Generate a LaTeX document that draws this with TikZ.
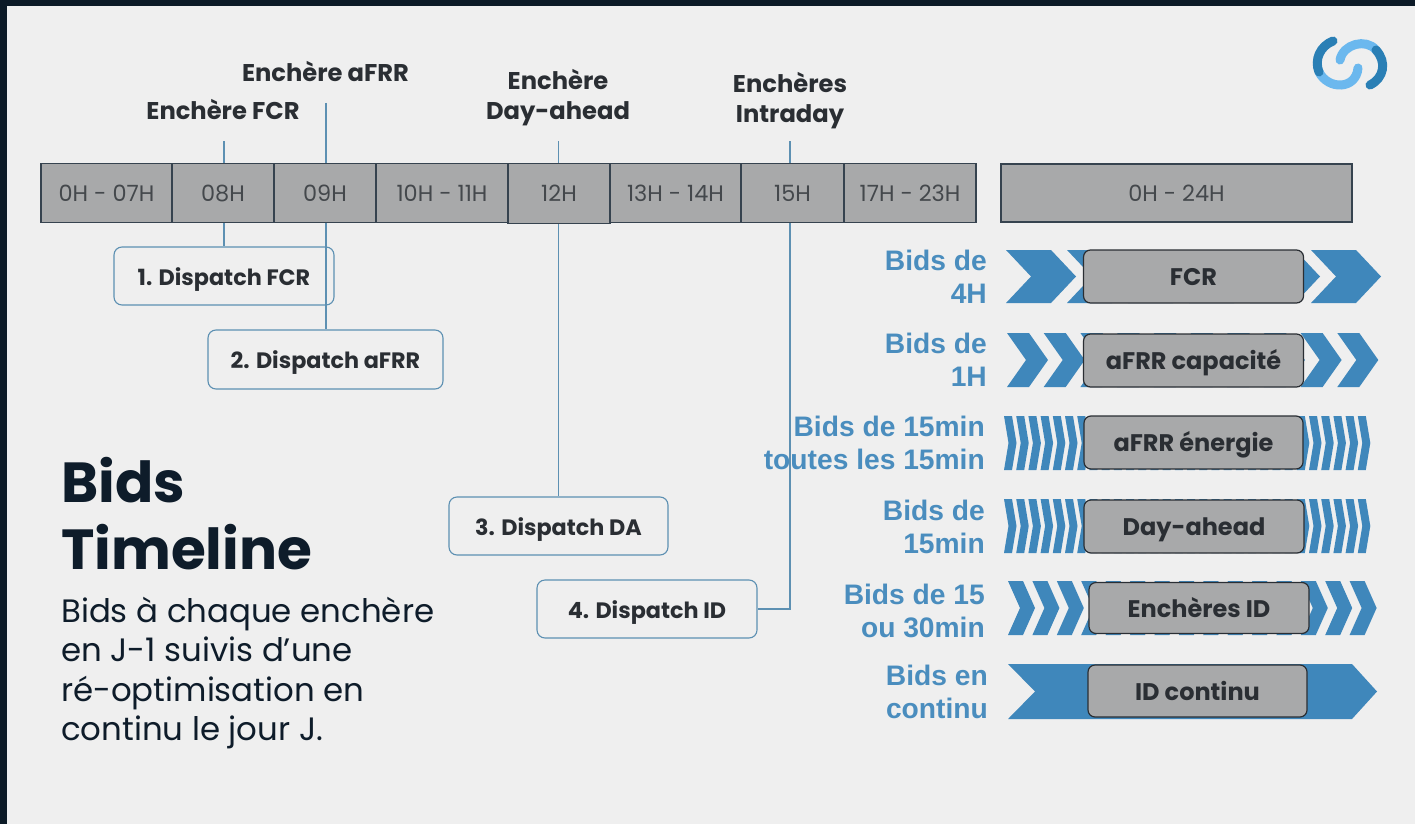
\documentclass[tikz,border=0pt]{standalone}
\usepackage{fontspec}
\setmainfont{Poppins}
\newfontfamily\arialb[BoldFont=*]{Liberation Sans Bold}
\definecolor{frameC}{HTML}{0C1A27}
\definecolor{bgC}{HTML}{EFEFEF}
\definecolor{cellC}{HTML}{A8A9AA}
\definecolor{edgeC}{HTML}{36434F}
\definecolor{lineC}{HTML}{5D90B2}
\definecolor{blueC}{HTML}{3F87BB}
\definecolor{labC}{HTML}{4A8DBE}
\definecolor{inkC}{HTML}{2A2E33}
\definecolor{cellInk}{HTML}{44484C}
\definecolor{titleC}{HTML}{0E1C2A}
\definecolor{logoD}{HTML}{2A7FB5}
\definecolor{logoL}{HTML}{6BB8EE}
\newcommand{\chevrow}[7]{% x0,y0,y1,L,d,n,step
  \pgfmathsetmacro{\lastidx}{int(#6-1)}
  \foreach \k in {0,...,\lastidx}{
    \pgfmathsetmacro{\xa}{#1+\k*#7}
    \fill[blueC] (\xa,#2) -- (\xa+#4,#2) -- (\xa+#4+#5,{(#2+#3)/2}) -- (\xa+#4,#3) -- (\xa,#3) -- (\xa+#5,{(#2+#3)/2}) -- cycle;
  }
}
\tikzset{
  cellbox/.style={draw=edgeC,line width=1.1pt,fill=cellC,text=cellInk,minimum height=59pt,inner sep=0pt,text height=22pt,text depth=6pt,font=\fontsize{22.4}{24}\selectfont},
  headlabel/.style={text=inkC,align=center,inner sep=0pt,font=\fontsize{24.2}{29.5}\selectfont\bfseries},
  conn/.style={draw=lineC,line width=1.1pt},
  dispatchbox/.style={draw=lineC,line width=1.1pt,rounded corners=8pt,inner sep=0pt,text=inkC,text height=24pt,text depth=6pt,font=\fontsize{22.3}{26}\selectfont\bfseries},
  marketbox/.style={draw=inkC,line width=1.2pt,fill=cellC,rounded corners=7pt,inner sep=0pt,text=inkC,text height=24pt,text depth=6pt,font=\fontsize{24}{28}\selectfont\bfseries},
  bidlabel/.style={text=labC,anchor=east,align=right,inner sep=0pt,font=\arialb\fontsize{28.2}{33}\selectfont},
  logoarc/.style={line width=9pt}
}
\begin{document}
\begin{tikzpicture}[x=1pt,y=-1pt]
\useasboundingbox (0,0) rectangle (1415,824);
\fill[frameC] (0,0) rectangle (1415,824);
\fill[bgC] (7,6) rectangle (1415,824);

% logo
\draw[logoarc,logoL,line cap=round] (1340,60) .. controls (1343,44) and (1366,38) .. (1376,50);
\draw[logoarc,logoD,line cap=round] (1370,85) .. controls (1384,78) and (1387,62) .. (1376,50);
\draw[logoarc,logoL,line cap=round] (1358,68) .. controls (1356,90) and (1328,90) .. (1319,72);
\draw[logoarc,logoD,line cap=round] (1333,41) .. controls (1320,46) and (1314,60) .. (1319,72);

% timeline cells
\node[cellbox,minimum width=131pt] (t0) at (106.5,193) {0H - 07H};
\node[cellbox,minimum width=102pt] (t8) at (223,193) {08H};
\node[cellbox,minimum width=102pt] (t9) at (325,193) {09H};
\node[cellbox,minimum width=132pt] (t10) at (442,193) {10H - 11H};
\node[cellbox,minimum width=131pt] (t13) at (675.5,193) {13H - 14H};
\node[cellbox,minimum width=103pt] (t15) at (792.5,193) {15H};
\node[cellbox,minimum width=132pt] (t17) at (910,193) {17H - 23H};
\node[cellbox,minimum width=102pt,minimum height=60pt] (t12) at (559,193.5) {12H};
\node[cellbox,minimum width=351pt,minimum height=58pt] (tall) at (1176.5,193) {0H - 24H};

% free ends
\coordinate (fcrTop) at (224,141);
\coordinate (afrrTop) at (326,103);
\coordinate (daTop) at (558.5,141);
\coordinate (idTop) at (790,141);

% dispatch boxes
\node[dispatchbox,minimum width=220pt,minimum height=58pt] (d1) at (224,276) {1. Dispatch FCR};
\node[dispatchbox,minimum width=235pt,minimum height=59pt] (d2) at (325.5,359.5) {2. Dispatch aFRR};
\node[dispatchbox,minimum width=219pt,minimum height=58pt] (d3) at (558.5,526) {3. Dispatch DA};
\node[dispatchbox,minimum width=220pt,minimum height=58pt] (d4) at (647,609) {4. Dispatch ID};

% connectors
\draw[conn] (fcrTop) -- (fcrTop |- t8.north);
\draw[conn] (afrrTop) -- (afrrTop |- t9.north);
\draw[conn] (daTop) -- (daTop |- t12.north);
\draw[conn] (idTop) -- (idTop |- t15.north);
\draw[conn] (fcrTop |- t8.south) -- (fcrTop |- d1.north);
\draw[conn] (afrrTop |- t9.south) -- (afrrTop |- d2.north);
\draw[conn] (daTop |- t12.south) -- (daTop |- d3.north);
\draw[conn] (idTop |- t15.south) -- (idTop |- d4.east) -- (d4.east);

% head labels
\node[headlabel] (hfcr) at (223,110) {Enchère FCR};
\node[headlabel] (hafrr) at (325.5,72) {Enchère aFRR};
\node[headlabel] (hda) at (558,97.5) {Enchère\\Day-ahead};
\node[headlabel] (hid) at (790,100.5) {Enchères\\Intraday};

% chevron rows
\chevrow{1006}{250}{303}{45}{25}{6}{61}
\chevrow{1007}{333}{387}{22}{19}{10}{36.7}
\chevrow{1004}{416}{470}{8}{4.5}{30}{12.2}
\chevrow{1004}{499}{553}{8}{4.5}{30}{12.2}
\chevrow{1008}{581}{635}{15}{12}{15}{24.4}
\fill[blueC] (1008,664) -- (1352,664) -- (1377,691.5) -- (1352,719) -- (1008,719) -- (1035,691.5) -- cycle;

% market boxes
\node[marketbox,minimum width=220pt,minimum height=53pt] (m1) at (1193.5,276.5) {FCR};
\node[marketbox,minimum width=220pt,minimum height=53pt] (m2) at (1193.5,360.5) {aFRR capacité};
\node[marketbox,minimum width=219pt,minimum height=53pt] (m3) at (1193.5,442.5) {aFRR énergie};
\node[marketbox,minimum width=220pt,minimum height=53pt] (m4) at (1194,526.5) {Day-ahead};
\node[marketbox,minimum width=220pt,minimum height=51pt] (m5) at (1199,608) {Enchères ID};
\node[marketbox,minimum width=219pt,minimum height=52pt] (m6) at (1197.5,691) {ID continu};

% bid labels
\node[bidlabel] (b1) at (987,276.5) {Bids de\\4H};
\node[bidlabel] (b2) at (987,359.5) {Bids de\\1H};
\node[bidlabel] (b3) at (985,442.5) {Bids de 15min\\toutes les 15min};
\node[bidlabel] (b4) at (985,526.5) {Bids de\\15min};
\node[bidlabel] (b5) at (985,610.5) {Bids de 15\\ou 30min};
\node[bidlabel] (b6) at (988,691.5) {Bids en\\continu};

% title
\node[anchor=west,inner sep=0pt,text=titleC,align=left,font=\fontsize{56.5}{67}\selectfont\bfseries] (title) at (61,514) {Bids\\Timeline};
\node[anchor=west,inner sep=0pt,text=titleC,align=left,font=\fontsize{32.4}{39.3}\selectfont] (body) at (61,673) {Bids à chaque enchère\\en J-1 suivis d’une\\ré-optimisation en\\continu le jour J.};
\end{tikzpicture}
\end{document}
